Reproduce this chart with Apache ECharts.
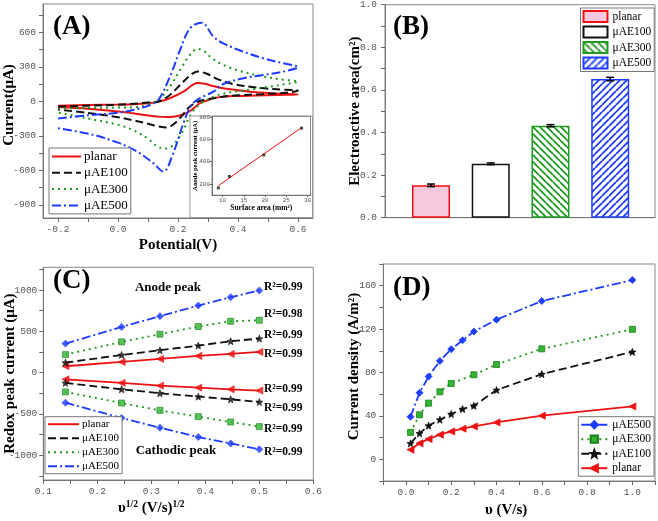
<!DOCTYPE html>
<html><head><meta charset="utf-8">
<script src="https://cdn.jsdelivr.net/npm/echarts@6/dist/echarts.min.js"></script>
<style>html,body{margin:0;padding:0;background:#fff}#c{width:658px;height:521px}</style>
</head><body><div id="c"></div>
<script>
// ---------------- DATA ----------------
// Panel A: cyclic voltammograms [potential V, current µA] (forward then reverse scan)
const cvPlanar = [[-0.2,-38],[-0.1,-33],[0.0,-28],[0.05,-25],[0.1,-17],[0.134,-5],[0.173,26],[0.218,84],[0.245,135],[0.263,160],[0.29,152],[0.32,130],[0.35,113],[0.4,96],[0.46,78],[0.53,67],[0.6,60],
  [0.53,55],[0.46,50],[0.4,46],[0.35,40],[0.318,26],[0.295,5],[0.273,-17],[0.245,-76],[0.218,-115],[0.19,-132],[0.16,-137],[0.13,-132],[0.1,-124],[0.05,-105],[0.0,-88],[-0.1,-65],[-0.2,-50]];
const cvAE100 = [[-0.2,-45],[-0.1,-38],[0.0,-30],[0.05,-22],[0.1,-10],[0.134,-2],[0.173,55],[0.207,142],[0.24,225],[0.265,260],[0.3,235],[0.33,195],[0.386,148],[0.46,120],[0.53,104],[0.6,92],
  [0.55,72],[0.48,62],[0.4,52],[0.35,40],[0.3,18],[0.27,0],[0.24,-45],[0.21,-135],[0.185,-200],[0.162,-228],[0.13,-215],[0.1,-195],[0.05,-165],[0.0,-138],[-0.1,-102],[-0.2,-72]];
const cvAE300 = [[-0.2,-62],[-0.1,-58],[0.0,-55],[0.05,-52],[0.095,-32],[0.134,11],[0.173,127],[0.207,272],[0.24,405],[0.265,455],[0.29,430],[0.31,380],[0.35,318],[0.4,268],[0.48,218],[0.55,188],[0.6,172],
  [0.55,145],[0.5,125],[0.45,105],[0.4,88],[0.35,65],[0.318,40],[0.273,-25],[0.245,-104],[0.218,-250],[0.184,-380],[0.155,-412],[0.13,-390],[0.1,-325],[0.05,-250],[0.0,-205],[-0.1,-150],[-0.2,-98]];
const cvAE500 = [[-0.2,-150],[-0.1,-122],[0.0,-100],[0.05,-76],[0.1,-40],[0.134,11],[0.173,214],[0.207,446],[0.24,635],[0.279,684],[0.318,562],[0.351,504],[0.418,431],[0.484,374],[0.551,330],[0.6,298],
  [0.551,258],[0.484,229],[0.418,200],[0.351,150],[0.318,84],[0.273,26],[0.245,-32],[0.218,-191],[0.184,-452],[0.151,-612],[0.118,-539],[0.073,-452],[0.04,-405],[0.0,-360],[-0.08,-293],[-0.2,-235]];
// Inset: anode peak current vs surface area
const insetArea = [9, 11.6, 19.7, 28.6];
const insetPeak = [165, 268, 460, 700];
const insetFit = [[9, 185], [28.6, 705]];

// Panel B: electroactive area (cm²)
const bNames = ['planar', 'μAE100', 'μAE300', 'μAE500'];
const bValues = [0.152, 0.253, 0.432, 0.651];
const bErrors = [0.006, 0.004, 0.005, 0.008];

// Panel C: redox peak current vs sqrt(scan rate)
const cX = [0.141, 0.245, 0.316, 0.387, 0.447, 0.5];
const cAnodePlanar = [77, 129, 166, 202, 226, 250];
const cAnodeAE100 = [121, 214, 271, 327, 380, 412];
const cAnodeAE300 = [218, 372, 465, 558, 622, 634];
const cAnodeAE500 = [351, 553, 683, 812, 913, 994];
const cCathPlanar = [-81, -125, -158, -182, -202, -218];
const cCathAE100 = [-125, -202, -250, -291, -323, -356];
const cCathAE300 = [-234, -368, -457, -533, -598, -654];
const cCathAE500 = [-364, -549, -667, -780, -857, -929];
const cR2 = ['0.99', '0.98', '0.99', '0.99', '0.99', '0.99', '0.99', '0.99'];

// Panel D: current density vs scan rate
const dX = [0.02, 0.06, 0.1, 0.15, 0.2, 0.25, 0.3, 0.4, 0.6, 1.0];
const dXAE300 = [0.02, 0.06, 0.1, 0.15, 0.2, 0.3, 0.4, 0.6, 1.0];
const dAE500 = [39.2, 61.3, 76.3, 90.7, 101.5, 109.7, 117.7, 128.7, 145.9, 165.2];
const dAE300 = [24.8, 41, 51.8, 62.2, 69.9, 77.9, 87.4, 101.8, 119.8];
const dAE100 = [14.7, 23.9, 31, 36.5, 41.7, 46.3, 49.3, 63.8, 78.5, 99];
const dPlanar = [8.9, 14.7, 18.7, 22.7, 25.7, 28.2, 30.3, 34, 40.2, 48.7];

// ---------------- STYLE ----------------
const RED = '#ee1111', BLK = '#111111', GRN = '#1f9a1f', BLU = '#1e3cff';
const SERIF = '"Liberation Serif","Times New Roman",serif';
const MONO = '"Liberation Mono",monospace';
const DASH = [8, 4], DOT = [2, 4], DASHDOT = [9, 3, 2, 3];
const pair = (xs, ys) => xs.map((x, i) => [x, ys[i]]);
const range = (a, b, s) => { const r = []; for (let v = a; v <= b + 1e-9; v += s) r.push(+v.toFixed(6)); return r; };

function starPath() {
  let d = '';
  for (let i = 0; i < 10; i++) {
    const r = i % 2 ? 0.42 : 1, a = (-90 + i * 36) * Math.PI / 180;
    d += (i ? 'L' : 'M') + (r * Math.cos(a)).toFixed(3) + ' ' + (r * Math.sin(a)).toFixed(3);
  }
  return 'path://' + d + 'Z';
}
const STAR = starPath();

function hatch(color, dir) {
  const s = 7, c = document.createElement('canvas');
  c.width = c.height = s;
  const g = c.getContext('2d');
  g.fillStyle = '#fff'; g.fillRect(0, 0, s, s);
  g.strokeStyle = color; g.lineWidth = 1.8;
  g.beginPath();
  for (const k of [-1, 0, 1]) {
    if (dir === '\\') { g.moveTo(0, k * s); g.lineTo(s, k * s + s); }
    else { g.moveTo(0, s + k * s); g.lineTo(s, k * s); }
  }
  g.stroke();
  return { image: c, repeat: 'repeat' };
}

function valAxis(o) {
  return {
    type: 'value', gridIndex: o.grid, min: o.min, max: o.max,
    axisLine: { show: true, onZero: false, lineStyle: { color: '#777', width: 1 } },
    axisTick: { show: o.ticks !== null, inside: false, length: o.tickLen || 4, customValues: o.ticks || [], lineStyle: { color: '#666' } },
    axisLabel: { show: !!o.labels, customValues: o.labels || [], color: '#555', fontFamily: MONO, fontSize: o.fs || 9.5, margin: o.margin || 5,
      formatter: o.fmt || (v => String(v)) },
    splitLine: { show: false },
    name: o.name || '', nameLocation: 'middle', nameGap: o.nameGap || 25, nameMoveOverlap: false,
    nameTextStyle: Object.assign({ fontFamily: SERIF, fontWeight: 'bold', fontSize: o.nameSize || 15, color: '#000' }, o.nameStyle || {}),
    z: o.z || 0
  };
}
const f1 = v => v.toFixed(1);

const legendBase = (data, left, top, extra) => Object.assign({
  data, orient: 'vertical', left, top, padding: [2, 3, 2, 2], borderColor: '#777', borderWidth: 1, backgroundColor: '#fff',
  formatter: n => n.slice(2), selectedMode: false
}, extra);
const gridBase = (left, top, width, height, z) => ({ left, top, width, height, show: true, borderColor: '#888', borderWidth: 1,
  containLabel: false, outerBoundsMode: 'none', z: z || 0 });

const option = {
  animation: false,
  backgroundColor: '#fff',
  grid: [
    gridBase(43, 4, 270, 214),            // A
    gridBase(212, 116.4, 98.5, 78.8, 4),  // inset
    gridBase(385, 4.7, 270, 213),         // B
    gridBase(43.3, 267.3, 270, 212.7),    // C
    gridBase(383.3, 264, 271.7, 217)      // D
  ],
  xAxis: [
    valAxis({ grid: 0, min: -0.25, max: 0.65, labels: [-0.2, 0, 0.2, 0.4, 0.6], ticks: range(-0.2, 0.6, 0.1), fmt: f1,
      name: 'Potential(V)', nameGap: 20, margin: 6 }),
    valAxis({ grid: 1, min: 7.5, max: 30.7, labels: [10, 15, 20, 25, 30], ticks: [10, 15, 20, 25, 30], fs: 6, margin: 2, tickLen: 2,
      name: 'Surface area (mm²)', nameGap: 9, nameSize: 7.5, z: 4 }),
    Object.assign(valAxis({ grid: 2, min: 0.23, max: 4.75, labels: null, ticks: null }), { axisTick: { show: false }, axisLabel: { show: false } }),
    valAxis({ grid: 3, min: 0.1, max: 0.6, labels: [0.1, 0.2, 0.3, 0.4, 0.5, 0.6], ticks: range(0.1, 0.6, 0.05), fmt: f1,
      name: '{a|υ}{s|1/2}{a| (V/s)}{s|1/2}', nameGap: 20, margin: 6,
      nameStyle: { padding: [0, 54, 0, 0], rich: {
        a: { fontFamily: SERIF, fontWeight: 'bold', fontSize: 15, color: '#000' },
        s: { fontFamily: SERIF, fontWeight: 'bold', fontSize: 9.5, color: '#000', verticalAlign: 'top', padding: [0, 0, 6, 0] } } } }),
    valAxis({ grid: 4, min: -0.1, max: 1.1, labels: [0, 0.2, 0.4, 0.6, 0.8, 1.0], ticks: range(-0.1, 1.1, 0.1), fmt: f1,
      name: 'υ (V/s)', nameGap: 22, margin: 6, nameStyle: { padding: [0, 26, 0, 0] } })
  ],
  yAxis: [
    valAxis({ grid: 0, min: -1015, max: 846, labels: [-900, -600, -300, 0, 300, 600], ticks: range(-900, 750, 150),
      name: 'Current(μA)', nameGap: 26, margin: 7, nameStyle: { padding: [0, 0, 0, 12] } }),
    valAxis({ grid: 1, min: 100, max: 805, labels: [200, 400, 600, 800], ticks: [200, 400, 600, 800], fs: 6, margin: 2, tickLen: 2,
      name: 'Anode peak current (μA)', nameGap: 13, nameSize: 6.5, z: 4 }),
    valAxis({ grid: 2, min: 0, max: 1.0, labels: [0, 0.2, 0.4, 0.6, 0.8, 1.0], ticks: range(0, 1.0, 0.1), fmt: f1,
      name: 'Electroactive area(cm²)', nameGap: 22, margin: 8 }),
    valAxis({ grid: 3, min: -1300, max: 1275, labels: [-1000, -500, 0, 500, 1000], ticks: range(-1250, 1250, 250),
      name: 'Redox peak current (μA)', nameGap: 26, margin: 6 }),
    valAxis({ grid: 4, min: -20, max: 180, labels: [0, 40, 80, 120, 160], ticks: range(-20, 180, 20),
      name: 'Current density (A/m²)', nameGap: 22, margin: 7, nameStyle: { padding: [0, 0, 0, 12] } })
  ],
  legend: [
    legendBase(['A:planar', 'A:μAE100', 'A:μAE300', 'A:μAE500'], 49, 148, {
      itemWidth: 29, itemHeight: 11, itemGap: 3.3, itemStyle: { opacity: 0 },
      textStyle: { fontFamily: SERIF, fontSize: 13, color: '#000', padding: [0, 0, 0, -2] } }),
    legendBase(['B:planar', 'B:μAE100', 'B:μAE300', 'B:μAE500'], 580.5, 8, {
      icon: 'rect', itemWidth: 24, itemHeight: 11, itemGap: 2.5,
      textStyle: { fontFamily: SERIF, fontSize: 11.5, lineHeight: 11.5, color: '#000' } }),
    legendBase(['C:planar', 'C:μAE100', 'C:μAE300', 'C:μAE500'], 45, 416.7, {
      itemWidth: 31, itemHeight: 11, itemGap: 3, itemStyle: { opacity: 0 },
      textStyle: { fontFamily: SERIF, fontSize: 11, color: '#000', padding: [0, 0, 0, -2] } }),
    legendBase(['D:μAE500', 'D:μAE300', 'D:μAE100', 'D:planar'], 578.3, 416.7, {
      itemWidth: 26, itemHeight: 9, itemGap: 2.5,
      textStyle: { fontFamily: SERIF, fontSize: 11.5, lineHeight: 11.5, color: '#000' } })
  ],
  graphic: [],
  series: []
};

// ---------- Panel A ----------
const cvLine = (name, data, color, type) => ({
  name, type: 'line', xAxisIndex: 0, yAxisIndex: 0, data, showSymbol: false, symbol: 'none', smooth: 0.35,
  lineStyle: { color, width: 2, type }, itemStyle: { color }, z: 2
});
option.series.push(
  cvLine('A:planar', cvPlanar, RED, 'solid'),
  cvLine('A:μAE100', cvAE100, BLK, DASH),
  cvLine('A:μAE300', cvAE300, GRN, DOT),
  cvLine('A:μAE500', cvAE500, BLU, DASHDOT)
);
// inset background box
option.graphic.push({ type: 'rect', shape: { x: 190, y: 116, width: 122.5, height: 101.5 },
  style: { fill: '#fff', stroke: '#999', lineWidth: 1 }, z: 3 });
option.series.push(
  { name: 'inset-fit', type: 'line', xAxisIndex: 1, yAxisIndex: 1, data: insetFit, symbol: 'none',
    lineStyle: { color: RED, width: 1 }, z: 5 },
  { name: 'inset-pts', type: 'scatter', xAxisIndex: 1, yAxisIndex: 1, data: pair(insetArea, insetPeak), symbol: 'rect', symbolSize: 3,
    itemStyle: { color: '#222' }, z: 6 }
);

// ---------- Panel B ----------
const bStyles = [
  { color: '#f8c9dc', borderColor: RED },
  { color: '#ffffff', borderColor: BLK },
  { color: hatch(GRN, '\\'), borderColor: GRN },
  { color: hatch(BLU, '/'), borderColor: BLU }
];
bNames.forEach((n, i) => {
  option.series.push({ name: 'B:' + n, type: 'bar', xAxisIndex: 2, yAxisIndex: 2, data: [[i + 1, bValues[i]]],
    barWidth: 38, barGap: '-100%', itemStyle: Object.assign({ borderWidth: 1.5 }, bStyles[i]) });
});
option.series.push({
  name: 'B-err', type: 'custom', xAxisIndex: 2, yAxisIndex: 2, z: 5,
  data: bValues.map((v, i) => [i + 1, v, bErrors[i]]),
  renderItem: (params, api) => {
    const x = api.value(0), y = api.value(1), e = api.value(2);
    const t = api.coord([x, y + e]), b = api.coord([x, y - e]), hw = 4;
    const st = { stroke: '#000', lineWidth: 1.5 };
    return { type: 'group', children: [
      { type: 'line', shape: { x1: t[0], y1: t[1], x2: b[0], y2: b[1] }, style: st },
      { type: 'line', shape: { x1: t[0] - hw, y1: t[1], x2: t[0] + hw, y2: t[1] }, style: st },
      { type: 'line', shape: { x1: b[0] - hw, y1: b[1], x2: b[0] + hw, y2: b[1] }, style: st }
    ] };
  }
});

// ---------- Panel C ----------
const cGroups = [
  { n: 'planar', an: cAnodePlanar, ca: cCathPlanar, color: RED, type: 'solid', sym: 'triangle', rot: 90 },
  { n: 'μAE100', an: cAnodeAE100, ca: cCathAE100, color: BLK, type: DASH, sym: STAR, rot: 0 },
  { n: 'μAE300', an: cAnodeAE300, ca: cCathAE300, color: GRN, type: DOT, sym: 'rect', rot: 0 },
  { n: 'μAE500', an: cAnodeAE500, ca: cCathAE500, color: BLU, type: DASHDOT, sym: 'diamond', rot: 0 }
];
cGroups.forEach(g => {
  [g.an, g.ca].forEach(arr => {
    option.series.push({ name: 'C:' + g.n, type: 'line', xAxisIndex: 3, yAxisIndex: 3, data: pair(cX, arr), symbol: 'none',
      lineStyle: { color: g.color, width: 1.8, type: g.type }, itemStyle: { color: g.color } });
    option.series.push({ name: 'C-pts:' + g.n, type: 'scatter', xAxisIndex: 3, yAxisIndex: 3, data: pair(cX, arr),
      symbol: g.sym, symbolRotate: g.rot, symbolSize: g.sym === 'rect' ? 6 : 7,
      itemStyle: { color: g.color === GRN ? '#33b333' : g.color, borderColor: g.color === GRN ? '#1a801a' : g.color, borderWidth: 0.8 }, z: 3 });
  });
});
const cLabelY = [286.7, 313.7, 335, 354.3, 388.7, 408.3, 429.3, 451.7];
cR2.forEach((r, i) => option.graphic.push({ type: 'text', x: 264, y: cLabelY[i],
  style: { text: 'R²=' + r, font: 'bold 11.5px ' + SERIF, fill: '#000', align: 'left', verticalAlign: 'middle' }, z: 10 }));
option.graphic.push(
  { type: 'text', x: 168, y: 288, style: { text: 'Anode peak', font: 'bold 13px ' + SERIF, fill: '#000', align: 'center', verticalAlign: 'middle' }, z: 10 },
  { type: 'text', x: 176, y: 451, style: { text: 'Cathodic peak', font: 'bold 13px ' + SERIF, fill: '#000', align: 'center', verticalAlign: 'middle' }, z: 10 }
);

// ---------- Panel D ----------
const dLine = (name, xs, ys, color, type, sym, rot) => ({
  name, type: 'line', xAxisIndex: 4, yAxisIndex: 4, data: pair(xs, ys), symbol: sym, symbolRotate: rot || 0,
  symbolSize: sym === 'rect' ? 6 : 7, showSymbol: true,
  lineStyle: { color, width: 1.8, type },
  itemStyle: { color: color === GRN ? '#33b333' : color, borderColor: color === GRN ? '#1a801a' : color, borderWidth: 0.8 }
});
option.series.push(
  dLine('D:μAE500', dX, dAE500, BLU, DASHDOT, 'diamond'),
  dLine('D:μAE300', dXAE300, dAE300, GRN, DOT, 'rect'),
  dLine('D:μAE100', dX, dAE100, BLK, DASH, STAR),
  dLine('D:planar', dX, dPlanar, RED, 'solid', 'triangle', 90)
);

// panel letters
[['(A)', 53, 27], ['(B)', 393, 27], ['(C)', 53, 281], ['(D)', 393, 288]].forEach(([t, x, y]) =>
  option.graphic.push({ type: 'text', x, y, style: { text: t, font: 'bold 27px ' + SERIF, fill: '#000', align: 'left', verticalAlign: 'middle' }, z: 10 }));

const chart = echarts.init(document.getElementById('c'), null, { renderer: 'canvas' });
chart.setOption(option);
</script>
</body></html>
